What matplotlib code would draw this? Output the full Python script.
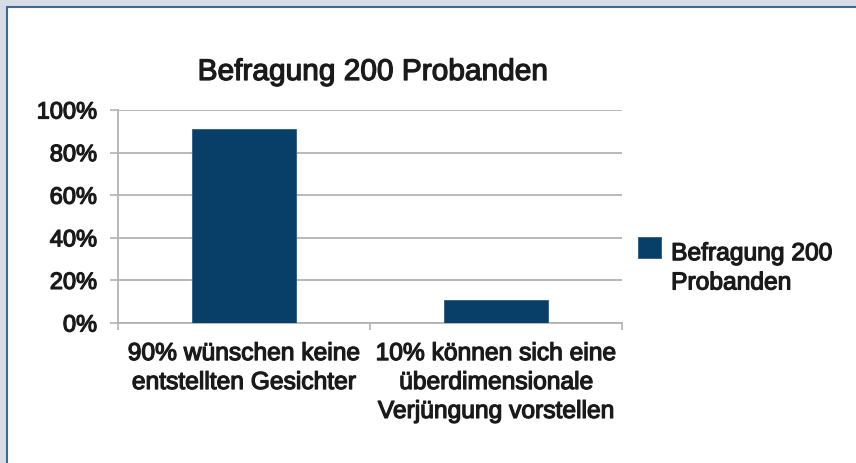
import matplotlib
matplotlib.use("Agg")
import matplotlib.pyplot as plt
import matplotlib.patheffects as pe
from matplotlib.patches import Rectangle
from matplotlib.legend_handler import HandlerPatch
from matplotlib.ticker import FixedLocator, PercentFormatter

plt.rcParams['font.family'] = ['Liberation Sans', 'DejaVu Sans']

title = 'Befragung 200 Probanden'
categories = ['90% wünschen keine\nentstellten Gesichter',
              '10% können sich eine\nüberdimensionale\nVerjüngung vorstellen']
values = [0.91, 0.11]
series_name = 'Befragung 200\nProbanden'

W, H = 856, 463
bar_color = '#073f68'
grid_color = '#b3b3b3'
text_color = '#1a1a1a'
heavy = [pe.withStroke(linewidth=0.9, foreground=text_color)]


def top_square(legend, orig_handle, xdescent, ydescent, width, height, fontsize):
    # legend square sits next to the first text line, not centred
    return Rectangle((-xdescent, -ydescent + 15.5), width, height)


fig = plt.figure(figsize=(W / 100, H / 100), dpi=100)
fig.patch.set_facecolor('#d8dce6')
# white chart area with dark blue edge (runs off right/bottom)
fig.patches.append(Rectangle((7 / W, -0.1), 1.1, 1 - 7 / H + 0.1,
                             transform=fig.transFigure, facecolor='white',
                             edgecolor='#3f6a8c', linewidth=1.5, zorder=-5))

ax = fig.add_axes([118 / W, (H - 323) / H, 504 / W, 213 / H])
ax.set_facecolor('none')

x = list(range(len(categories)))
bars = ax.bar(x, values, width=0.41, color=bar_color, edgecolor='#2c5a80',
              linewidth=0.6, zorder=3, label=series_name)

ax.set_xlim(-0.5, len(categories) - 0.5)
ax.set_ylim(0, 1)
ax.yaxis.set_major_locator(FixedLocator([0, 0.2, 0.4, 0.6, 0.8, 1.0]))
ax.yaxis.set_major_formatter(PercentFormatter(1.0, decimals=0))
ax.grid(axis='y', color=grid_color, linewidth=1.3, zorder=0)

ax.set_xticks(x)
ax.set_xticklabels(categories, fontsize=17.7, color=text_color,
                   linespacing=1.26)
ax.set_xticks([-0.5, 0.5, 1.5], minor=True)
ax.tick_params(axis='x', which='major', length=0, pad=13)
ax.tick_params(axis='x', which='minor', length=5, width=1.2,
               color=grid_color, direction='out')
ax.tick_params(axis='y', length=6, width=1.2, color=grid_color,
               labelsize=17, labelcolor=text_color, pad=9)

for side in ['top', 'right']:
    ax.spines[side].set_visible(False)
for side in ['left', 'bottom']:
    ax.spines[side].set_color(grid_color)
    ax.spines[side].set_linewidth(1.3)

fig.text(373 / W, 1 - 72 / H, title, fontsize=21.5, color=text_color,
         ha='center', va='center', path_effects=heavy)

leg = ax.legend(handles=[bars.patches[0]], labels=[series_name],
                loc='upper left', bbox_to_anchor=(616 / W, 1 - 219 / H),
                bbox_transform=fig.transFigure, frameon=False, fontsize=17.7,
                handlelength=0.94, handleheight=0.94, handletextpad=0.4,
                labelcolor=text_color,
                handler_map={Rectangle: HandlerPatch(patch_func=top_square)})
for t in leg.get_texts():
    t.set_linespacing(1.28)
    t.set_path_effects(heavy)

for t in ax.get_xticklabels() + ax.get_yticklabels():
    t.set_path_effects(heavy)

fig.savefig('out.png', dpi=100, facecolor=fig.get_facecolor())
